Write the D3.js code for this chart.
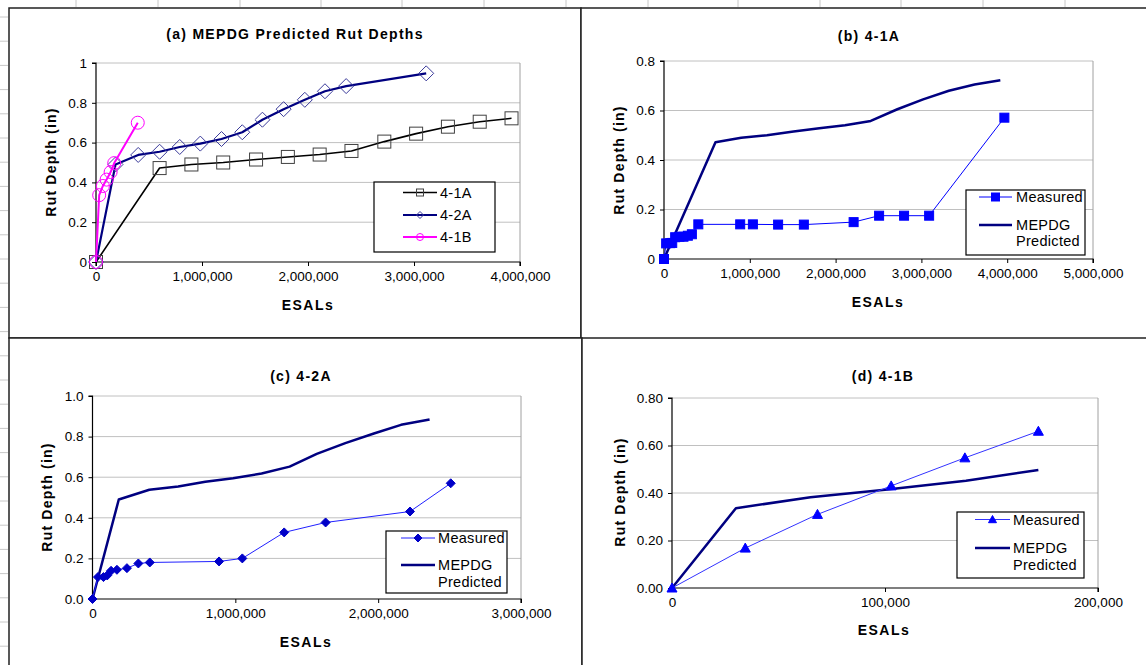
<!DOCTYPE html>
<html>
<head>
<meta charset="utf-8">
<script src="https://cdn.jsdelivr.net/npm/d3@7"></script>
<style>
  html, body { margin: 0; padding: 0; background: #fff; }
  svg { display: block; }
  text { font-family: "Liberation Sans", Arial, sans-serif; fill: #000; }
  .ttl { font-weight: bold; }
</style>
</head>
<body>
<div id="chart"></div>
<script>
// ESALs in millions / thousands are kept as raw counts
const esal41A = [0, 600000, 900000, 1200000, 1510000, 1810000, 2110000, 2410000, 2720000, 3020000, 3320000, 3620000, 3920000];
const rut41A  = [0, 0.472, 0.49, 0.50, 0.515, 0.528, 0.54, 0.558, 0.605, 0.645, 0.68, 0.705, 0.722];

const esal42A = [0, 184000, 398000, 600000, 790000, 984000, 1184000, 1380000, 1570000, 1770000, 1970000, 2160000, 2360000, 3115000];
const rut42A  = [0, 0.49, 0.538, 0.554, 0.578, 0.595, 0.618, 0.652, 0.715, 0.768, 0.815, 0.858, 0.884, 0.948];

const esal41B = [0, 30000, 65000, 100000, 138000, 172000, 394000];
const rut41B  = [0, 0.336, 0.382, 0.414, 0.452, 0.497, 0.70];

// measured
const measEsal41A = [0, 25000, 72000, 96000, 130000, 180000, 227000, 278000, 325000, 400000, 888000, 1036000, 1330000, 1630000, 2210000, 2507000, 2798000, 3090000, 3967000];
const measRut41A  = [0, 0.063, 0.064, 0.065, 0.088, 0.09, 0.09, 0.094, 0.10, 0.14, 0.14, 0.14, 0.139, 0.139, 0.149, 0.175, 0.175, 0.175, 0.571];

const measEsal42A = [0, 38000, 77000, 103000, 130000, 171000, 241000, 321000, 401000, 886000, 1049000, 1342000, 1632000, 2223000, 2508000];
const measRut42A  = [0, 0.108, 0.108, 0.116, 0.139, 0.144, 0.152, 0.175, 0.18, 0.185, 0.20, 0.328, 0.377, 0.431, 0.57];

const measEsal41B = [0, 34400, 68300, 102900, 137500, 172000];
const measRut41B  = [0, 0.168, 0.31, 0.43, 0.548, 0.66];

const titles = ['(a) MEPDG Predicted Rut Depths', '(b) 4-1A', '(c) 4-2A', '(d) 4-1B'];
const legendA = ['4-1A', '4-2A', '4-1B'];
const legendMeas = ['Measured', 'MEPDG', 'Predicted'];

const yTicksA = ['0', '0.2', '0.4', '0.6', '0.8', '1'];
const yTicksB = ['0', '0.2', '0.4', '0.6', '0.8'];
const yTicksC = ['0.0', '0.2', '0.4', '0.6', '0.8', '1.0'];
const yTicksD = ['0.00', '0.20', '0.40', '0.60', '0.80'];
const xTicksA = [0, 1000000, 2000000, 3000000, 4000000];
const xTicksB = [0, 1000000, 2000000, 3000000, 4000000, 5000000];
const xTicksC = [0, 1000000, 2000000, 3000000];
const xTicksD = [0, 100000, 200000];

const W = 1146, H = 665;
const svg = d3.select('#chart').append('svg').attr('width', W).attr('height', H);

// spreadsheet cell lines peeking out around the charts
const rowTicks = d3.range(27).map(k => 17 + k * 24.2);
svg.selectAll('.rowtick').data(rowTicks).enter().append('line')
    .attr('x1', 0).attr('x2', 8).attr('y1', d => d).attr('y2', d => d)
    .attr('stroke', '#c8c8c8');
const colTicks = [76, 158, 240, 321, 402, 484, 566, 648, 738, 820, 901, 983, 1065];
svg.selectAll('.coltick').data(colTicks).enter().append('line')
    .attr('x1', d => d).attr('x2', d => d).attr('y1', 0).attr('y2', 7)
    .attr('stroke', '#c8c8c8');

const zip = (xs, ys) => xs.map((x, i) => ({x: x, y: ys[i]}));

function marker(g, type, x, y, size, stroke, fill) {
    const s = size / 2;
    let el;
    if (type === 'square') {
        el = g.append('rect').attr('x', x - s).attr('y', y - s).attr('width', size).attr('height', size);
    } else if (type === 'circle') {
        el = g.append('circle').attr('cx', x).attr('cy', y).attr('r', s);
    } else if (type === 'diamond') {
        el = g.append('path').attr('d', `M${x},${y - s}L${x + s},${y}L${x},${y + s}L${x - s},${y}Z`);
    } else if (type === 'triangle') {
        el = g.append('path').attr('d', `M${x},${y - s}L${x + s},${y + s * 0.8}L${x - s},${y + s * 0.8}Z`);
    }
    el.attr('stroke', stroke).attr('stroke-width', 1).attr('fill', fill);
}

function drawPanel(p) {
    const g = svg.append('g');
    g.append('rect').attr('x', p.frame[0]).attr('y', p.frame[1])
        .attr('width', p.frame[2]).attr('height', p.frame[3])
        .attr('fill', '#fff').attr('stroke', '#222').attr('stroke-width', 1.5);

    const x = d3.scaleLinear().domain(p.xDomain).range([p.plot.left, p.plot.right]);
    const y = d3.scaleLinear().domain(p.yDomain).range([p.plot.bottom, p.plot.top]);
    const yVals = d3.range(p.yLabels.length).map(i => p.yDomain[0] + i * p.yStep);

    // gridlines and plot border
    g.selectAll('.grid').data(yVals.slice(1)).enter().append('line')
        .attr('x1', p.plot.left).attr('x2', p.plot.right)
        .attr('y1', d => y(d)).attr('y2', d => y(d))
        .attr('stroke', '#c0c0c0').attr('stroke-width', 1);
    g.append('line').attr('x1', p.plot.right).attr('x2', p.plot.right)
        .attr('y1', p.plot.top).attr('y2', p.plot.bottom)
        .attr('stroke', '#a0a0a0');

    // axes
    const yAxis = d3.axisLeft(y).tickValues(yVals).tickSize(4).tickPadding(5)
        .tickFormat((d, i) => p.yLabels[i]);
    const yg = g.append('g').attr('transform', `translate(${p.plot.left},0)`).call(yAxis);
    const xAxis = d3.axisBottom(x).tickValues(p.xTicks).tickSize(4).tickPadding(5)
        .tickFormat(d3.format(','));
    const xg = g.append('g').attr('transform', `translate(0,${p.plot.bottom})`).call(xAxis);
    [yg, xg].forEach(a => {
        a.attr('font-family', null).attr('font-size', null);
        a.select('.domain').attr('stroke', '#000').attr('stroke-width', 1.2);
        a.selectAll('.tick line').attr('stroke', '#000');
        a.selectAll('.tick text').style('font-size', '13.5px').attr('fill', '#000');
    });
    yg.select('.domain').attr('d', `M-4,${p.plot.top}H0V${p.plot.bottom}`);
    xg.select('.domain').attr('d', `M${p.plot.left},4V0H${p.plot.right}V4`);

    // series
    p.series.forEach(s => {
        const pts = zip(s.xs, s.ys);
        g.append('path').datum(pts)
            .attr('d', d3.line().x(d => x(d.x)).y(d => y(d.y)))
            .attr('fill', 'none').attr('stroke', s.color).attr('stroke-width', s.width)
            .attr('stroke-linejoin', 'round');
        if (s.marker) {
            pts.forEach(d => marker(g, s.marker, x(d.x), y(d.y), s.size, s.mStroke, s.mFill));
        }
    });

    // titles
    g.append('text').attr('class', 'ttl').attr('x', p.titlePos[0]).attr('y', p.titlePos[1])
        .attr('text-anchor', 'middle').attr('dominant-baseline', 'central')
        .style('font-size', '14px').style('letter-spacing', '1.3px').text(p.title);
    g.append('text').attr('class', 'ttl').attr('transform', `translate(${p.yTitle[0]},${p.yTitle[1]}) rotate(-90)`)
        .attr('text-anchor', 'middle').attr('dominant-baseline', 'central')
        .style('font-size', '14px').style('letter-spacing', '1.2px').text('Rut Depth (in)');
    g.append('text').attr('class', 'ttl').attr('x', p.xTitle[0]).attr('y', p.xTitle[1])
        .attr('text-anchor', 'middle').attr('dominant-baseline', 'central')
        .style('font-size', '14px').style('letter-spacing', '1.5px').text('ESALs');

    // legend
    const L = p.legend;
    g.append('rect').attr('x', L.box[0]).attr('y', L.box[1]).attr('width', L.box[2]).attr('height', L.box[3])
        .attr('fill', '#fff').attr('stroke', '#000').attr('stroke-width', 1.2);
    L.items.forEach(it => {
        if (it.series) {
            const s = it.series;
            g.append('line').attr('x1', L.lineX[0]).attr('x2', L.lineX[1])
                .attr('y1', it.y).attr('y2', it.y)
                .attr('stroke', s.color).attr('stroke-width', s.width);
            if (s.marker) marker(g, s.marker, (L.lineX[0] + L.lineX[1]) / 2, it.y, L.mSize, s.mStroke, s.mFill);
        }
        g.append('text').attr('x', L.textX).attr('y', it.y)
            .attr('dominant-baseline', 'central').style('font-size', '14.5px')
            .style('letter-spacing', '0.3px').text(it.label);
    });
}

const s41A = {xs: esal41A, ys: rut41A, color: '#000', width: 1.6, marker: 'square', size: 13, mStroke: '#404040', mFill: 'none'};
const s42A = {xs: esal42A, ys: rut42A, color: '#000080', width: 2.2, marker: 'diamond', size: 15, mStroke: '#3a3a9a', mFill: 'none'};
const s41B = {xs: esal41B, ys: rut41B, color: '#ff00ff', width: 2, marker: 'circle', size: 13, mStroke: '#ff00ff', mFill: 'none'};

drawPanel({
    frame: [9, 8, 572, 330],
    plot: {left: 96, right: 520, top: 63, bottom: 262},
    xDomain: [0, 4000000], yDomain: [0, 1], yStep: 0.2,
    yLabels: yTicksA, xTicks: xTicksA,
    series: [s41A, s42A, s41B],
    title: titles[0], titlePos: [295, 34], yTitle: [51, 162], xTitle: [308, 305],
    legend: {
        box: [374, 182, 121, 70], lineX: [403, 437], textX: 440, mSize: 7,
        items: [
            {label: legendA[0], y: 192.5, series: s41A},
            {label: legendA[1], y: 215, series: s42A},
            {label: legendA[2], y: 237, series: s41B}
        ]
    }
});

const predB = {xs: esal41A, ys: rut41A, color: '#000080', width: 2.5};
const measB = {xs: measEsal41A, ys: measRut41A, color: '#0000ff', width: 1, marker: 'square', size: 9, mStroke: '#0000ff', mFill: '#0000ff'};
drawPanel({
    frame: [581, 8, 580, 331],
    plot: {left: 664, right: 1093, top: 61, bottom: 259},
    xDomain: [0, 5000000], yDomain: [0, 0.8], yStep: 0.2,
    yLabels: yTicksB, xTicks: xTicksB,
    series: [predB, measB],
    title: titles[1], titlePos: [869, 36], yTitle: [619, 160], xTitle: [878, 302],
    legend: {
        box: [966, 190, 119, 65], lineX: [979, 1012], textX: 1016, mSize: 8,
        items: [
            {label: legendMeas[0], y: 197, series: measB},
            {label: legendMeas[1], y: 225, series: predB},
            {label: legendMeas[2], y: 241}
        ]
    }
});

const predC = {xs: esal42A.slice(0, 13), ys: rut42A.slice(0, 13), color: '#000080', width: 2.5};
const measC = {xs: measEsal42A, ys: measRut42A, color: '#2020ff', width: 1, marker: 'diamond', size: 9, mStroke: '#0000c8', mFill: '#0000c8'};
drawPanel({
    frame: [9, 338, 573, 340],
    plot: {left: 92.5, right: 521, top: 396, bottom: 599},
    xDomain: [0, 3000000], yDomain: [0, 1], yStep: 0.2,
    yLabels: yTicksC, xTicks: xTicksC,
    series: [predC, measC],
    title: titles[2], titlePos: [301, 376], yTitle: [47, 497], xTitle: [306, 642],
    legend: {
        box: [386, 531, 121, 62], lineX: [401, 435], textX: 438, mSize: 8,
        items: [
            {label: legendMeas[0], y: 538, series: measC},
            {label: legendMeas[1], y: 565, series: predC},
            {label: legendMeas[2], y: 582}
        ]
    }
});

const predD = {xs: esal41B.slice(0, 6), ys: rut41B.slice(0, 6), color: '#000080', width: 2.5};
const measD = {xs: measEsal41B, ys: measRut41B, color: '#3333ff', width: 1, marker: 'triangle', size: 10, mStroke: '#0000ff', mFill: '#0000ff'};
drawPanel({
    frame: [582, 338, 580, 340],
    plot: {left: 672, right: 1098, top: 398, bottom: 588},
    xDomain: [0, 200000], yDomain: [0, 0.8], yStep: 0.2,
    yLabels: yTicksD, xTicks: xTicksD,
    series: [predD, measD],
    title: titles[3], titlePos: [883, 376], yTitle: [620, 492], xTitle: [884, 630],
    legend: {
        box: [957, 512, 127, 66], lineX: [975, 1010], textX: 1013, mSize: 8,
        items: [
            {label: legendMeas[0], y: 519.5, series: measD},
            {label: legendMeas[1], y: 548, series: predD},
            {label: legendMeas[2], y: 565}
        ]
    }
});
</script>
</body>
</html>
